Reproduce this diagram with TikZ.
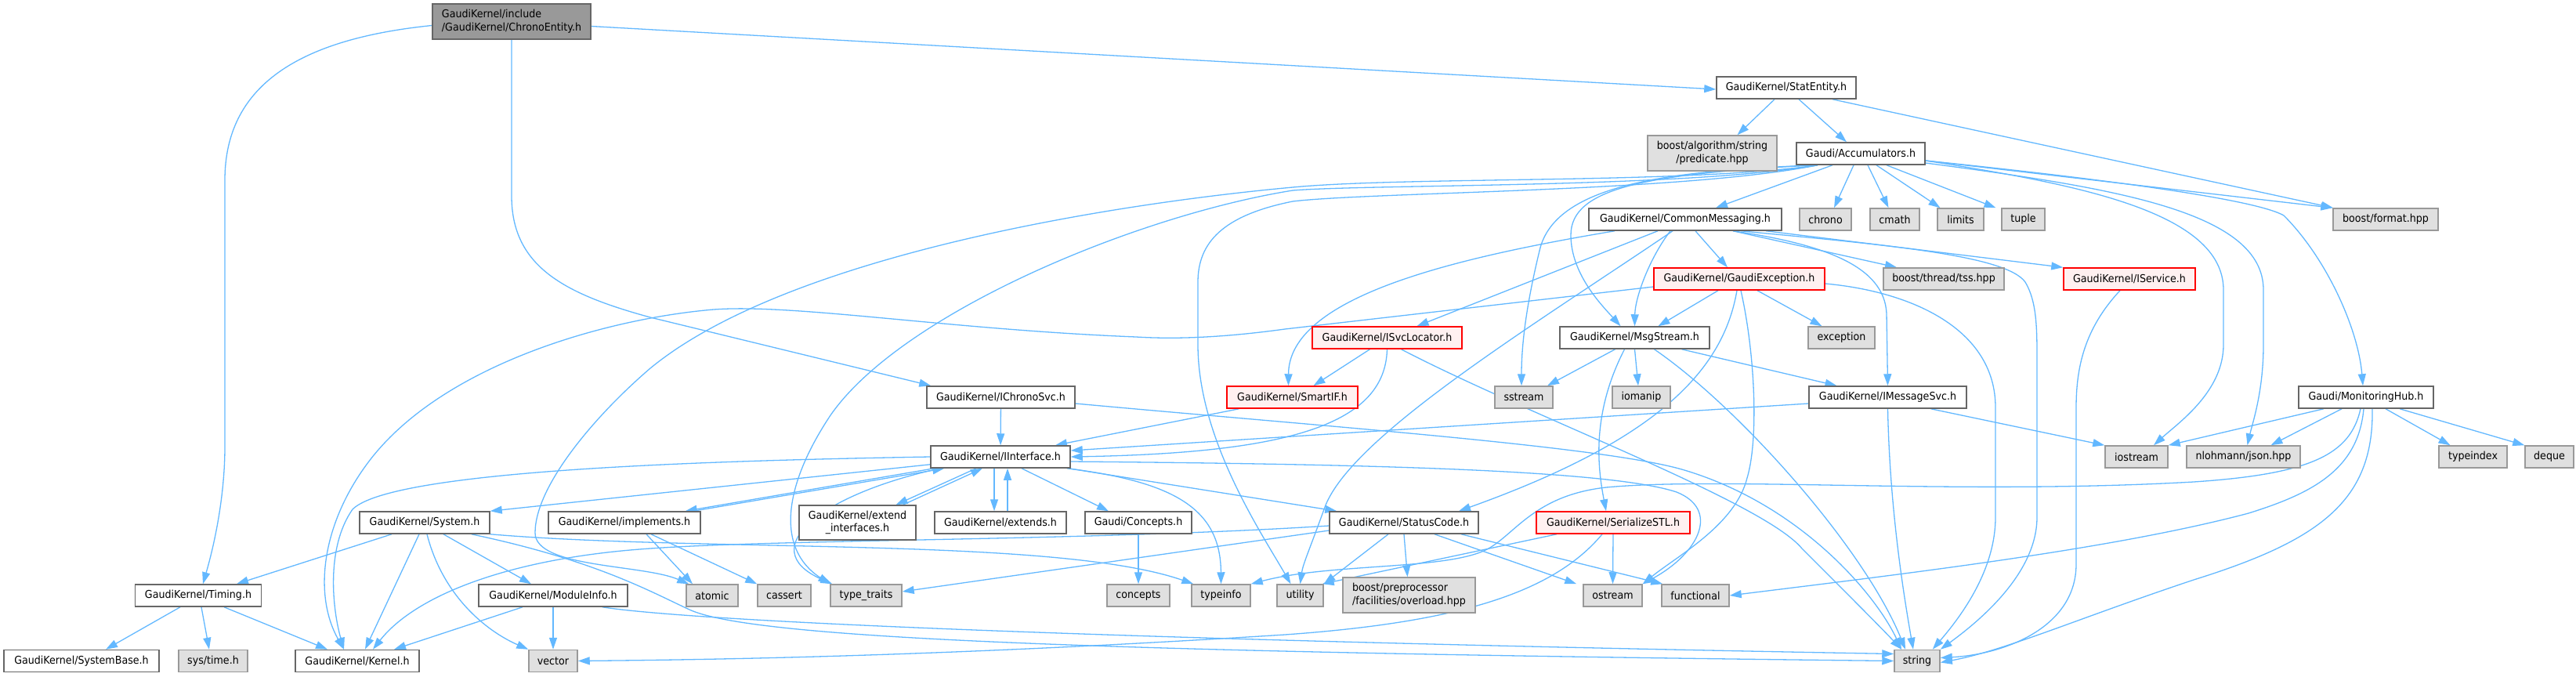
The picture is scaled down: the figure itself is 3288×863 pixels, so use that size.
\documentclass[tikz,border=0pt]{standalone}
\usepackage{fontspec}
\setmainfont{DejaVu Sans}[FakeStretch=0.925]
\usetikzlibrary{arrows.meta,calc}
\pgfdeclarelayer{bg}
\pgfsetlayers{bg,main}
\definecolor{edgeblue}{HTML}{63B8FF}
\definecolor{ndborder}{HTML}{666666}
\definecolor{extfill}{HTML}{E0E0E0}
\definecolor{extborder}{HTML}{999999}
\definecolor{redfill}{HTML}{FFF0F0}
\definecolor{redborder}{HTML}{FF0000}
\definecolor{rootfill}{HTML}{999999}
\newcommand\ndfont{\fontsize{13.7pt}{16.7pt}\selectfont}
\tikzset{
  nd/.style={draw=ndborder, fill=white, line width=1.5pt, inner sep=0pt, minimum height=28pt, font=\ndfont, text=black},
  sysnd/.style={nd, draw=extborder, fill=extfill},
  rednd/.style={nd, draw=redborder, fill=redfill},
  rootnd/.style={nd, draw=ndborder, fill=rootfill},
  dep/.style={draw=edgeblue, line width=1.3pt, -{Triangle[length=15pt,width=10pt]}}
}
\begin{document}
\begin{tikzpicture}[x=1pt,y=-1pt]
\useasboundingbox (0,0) rectangle (3288,863);
% nodes
\node[rootnd, minimum width=202pt, minimum height=45pt, align=left] (ce) at (653,27.5) {GaudiKernel/include\\/GaudiKernel/ChronoEntity.h};
\node[nd, minimum width=178pt] (se) at (2280,112) {GaudiKernel/StatEntity.h};
\node[sysnd, minimum width=165pt, minimum height=45pt, align=center] (pred) at (2185.5,195.5) {boost/algorithm/string\\/predicate.hpp};
\node[nd, minimum width=164pt] (acc) at (2375,196) {Gaudi/Accumulators.h};
\node[nd, minimum width=246pt] (cm) at (2151,280) {GaudiKernel/CommonMessaging.h};
\node[sysnd, minimum width=66pt] (chrono) at (2330,280) {chrono};
\node[sysnd, minimum width=63pt] (cmath) at (2418.5,280) {cmath};
\node[sysnd, minimum width=59pt] (limits) at (2502.5,280) {limits};
\node[sysnd, minimum width=55pt] (tuple) at (2582.5,280) {tuple};
\node[sysnd, minimum width=134pt] (bfmt) at (3045,280) {boost/format.hpp};
\node[rednd, minimum width=218pt] (ge) at (2220,356) {GaudiKernel/GaudiException.h};
\node[sysnd, minimum width=154pt] (tss) at (2481,356) {boost/thread/tss.hpp};
\node[rednd, minimum width=168pt] (isvc) at (2718,356) {GaudiKernel/IService.h};
\node[rednd, minimum width=191pt] (isl) at (1770.5,431) {GaudiKernel/ISvcLocator.h};
\node[nd, minimum width=191pt] (ms) at (2086.5,431) {GaudiKernel/MsgStream.h};
\node[sysnd, minimum width=85pt] (exc) at (2350.5,431) {exception};
\node[rednd, minimum width=167pt] (sif) at (1649.5,507) {GaudiKernel/SmartIF.h};
\node[sysnd, minimum width=74pt] (sstream) at (1945,507) {sstream};
\node[sysnd, minimum width=74pt] (iomanip) at (2095,507) {iomanip};
\node[nd, minimum width=201pt] (ims) at (2409.5,507) {GaudiKernel/IMessageSvc.h};
\node[nd, minimum width=172pt] (mh) at (3020,507) {Gaudi/MonitoringHub.h};
\node[nd, minimum width=189pt] (ics) at (1277.5,507) {GaudiKernel/IChronoSvc.h};
\node[nd, minimum width=178pt] (iif) at (1277,583) {GaudiKernel/IInterface.h};
\node[sysnd, minimum width=80pt] (iostream) at (2727,583) {iostream};
\node[sysnd, minimum width=145pt] (json) at (2863.5,583) {nlohmann/json.hpp};
\node[sysnd, minimum width=87pt] (typeindex) at (3156.5,583) {typeindex};
\node[sysnd, minimum width=62pt] (deque) at (3254,583) {deque};
\node[nd, minimum width=166pt] (sys) at (542,667) {GaudiKernel/System.h};
\node[nd, minimum width=194pt] (impl) at (797,667) {GaudiKernel/implements.h};
\node[nd, minimum width=149pt, minimum height=44pt, align=center] (extif) at (1094.5,667) {GaudiKernel/extend\\\_interfaces.h};
\node[nd, minimum width=168pt] (exts) at (1277,667) {GaudiKernel/extends.h};
\node[nd, minimum width=136pt] (conc) at (1453,667) {Gaudi/Concepts.h};
\node[nd, minimum width=190pt] (sc) at (1792,667) {GaudiKernel/StatusCode.h};
\node[rednd, minimum width=196pt] (sstl) at (2059,667) {GaudiKernel/SerializeSTL.h};
\node[nd, minimum width=161pt] (tim) at (253,760) {GaudiKernel/Timing.h};
\node[nd, minimum width=190pt] (mi) at (706,760) {GaudiKernel/ModuleInfo.h};
\node[sysnd, minimum width=66pt] (atomic) at (909,760) {atomic};
\node[sysnd, minimum width=68pt] (cassert) at (1001,760) {cassert};
\node[sysnd, minimum width=91pt] (tt) at (1105.5,760) {type\_traits};
\node[sysnd, minimum width=80pt] (concepts) at (1453,760) {concepts};
\node[sysnd, minimum width=75pt] (typeinfo) at (1558.5,760) {typeinfo};
\node[sysnd, minimum width=59pt] (utility) at (1659.5,760) {utility};
\node[sysnd, minimum width=169pt, minimum height=45pt, align=left] (ovl) at (1798.5,759.5) {boost/preprocessor\\/facilities/overload.hpp};
\node[sysnd, minimum width=75pt] (ostream) at (2058.5,760) {ostream};
\node[sysnd, minimum width=86pt] (functional) at (2164,760) {functional};
\node[nd, minimum width=198pt] (sb) at (104,843.5) {GaudiKernel/SystemBase.h};
\node[sysnd, minimum width=88pt] (systime) at (272,843.5) {sys/time.h};
\node[nd, minimum width=158pt] (kern) at (456,843.5) {GaudiKernel/Kernel.h};
\node[sysnd, minimum width=62pt] (vector) at (706,843.5) {vector};
\node[sysnd, minimum width=58pt] (string) at (2447,843.5) {string};

\begin{pgfonlayer}{bg}
% ChronoEntity
\draw[dep] ([yshift=-6]ce.east) -- ([yshift=-2]se.west);
\draw[dep] (ce.south) -- (653,250) .. controls (653,340) and (720,375) .. (830,405) -- ([xshift=6]ics.north west);
\draw[dep] ([yshift=-5]ce.west) .. controls (380,50) and (287,110) .. (287,230) -- (287,570) .. controls (287,630) and (275,690) .. ([xshift=6]tim.north);
% StatEntity
\draw[dep] ([xshift=-15]se.south) -- ([xshift=32]pred.north);
\draw[dep] ([xshift=16]se.south) -- ([xshift=-18]acc.north);
\draw[dep] ([xshift=59]se.south) -- ([xshift=-67]bfmt.north);
% Accumulators
\draw[dep] ([xshift=-36]acc.south) -- ([xshift=39]cm.north);
\draw[dep] ([xshift=-9]acc.south) -- ([xshift=11]chrono.north);
\draw[dep] ([xshift=9]acc.south) -- ([xshift=-8]cmath.north);
\draw[dep] ([xshift=20]acc.south) -- ([xshift=-26]limits.north);
\draw[dep] ([xshift=33]acc.south) -- ([xshift=-35]tuple.north);
\draw[dep] ([yshift=-9]acc.east) -- (bfmt.north west);
\draw[dep] ([yshift=-9]acc.east) .. controls (2700,230) and (2880,255) .. (2915,275) .. controls (2970,330) and (3010,420) .. ([xshift=-4]mh.north);
\draw[dep] ([yshift=-9]acc.east) .. controls (2650,235) and (2838,270) .. (2838,370) -- (2838,440) .. controls (2838,500) and (2780,540) .. ([xshift=22]iostream.north);
\draw[dep] ([yshift=-12]acc.east) .. controls (2700,240) and (2889,270) .. (2889,370) -- (2889,440) .. controls (2889,500) and (2875,540) .. ([xshift=5]json.north);
\draw[dep] ([xshift=-55]acc.south) .. controls (2150,235) and (1800,225) .. (1650,239) .. controls (1400,262) and (1000,330) .. (830,470) .. controls (760,530) and (683,620) .. (683,680) .. controls (683,725) and (820,720) .. ([xshift=4]atomic.north west);
\draw[dep] ([xshift=-55]acc.south) .. controls (2150,240) and (1750,235) .. (1650,243) .. controls (1450,275) and (1150,400) .. (1060,530) .. controls (1000,620) and (990,700) .. (tt.north west);
\draw[dep] ([xshift=-55]acc.south) .. controls (2150,245) and (1750,245) .. (1650,257) .. controls (1560,275) and (1529,310) .. (1529,360) -- (1529,440) .. controls (1529,560) and (1610,680) .. ([xshift=-12]utility.north);
\draw[dep] ([xshift=-60]acc.south) .. controls (2150,218) and (1985,230) .. (1965,320) .. controls (1948,390) and (1942,440) .. ([xshift=-3]sstream.north);
\draw[dep] ([xshift=-58]acc.south) .. controls (2100,222) and (2005,240) .. (2005,300) .. controls (2005,350) and (2045,390) .. ([xshift=-18]ms.north);
% CommonMessaging
\draw[dep] ([xshift=13]cm.south) -- ([xshift=-15]ge.north);
\draw[dep] ([xshift=61]cm.south) -- ([xshift=-60]tss.north);
\draw[dep] ([xshift=103]cm.south) -- (isvc.north west);
\draw[dep] ([xshift=71]cm.south) .. controls (2400,312) and (2560,325) .. (2585,360) .. controls (2600,385) and (2600,420) .. (2600,460) -- (2600,660) .. controls (2600,730) and (2530,790) .. (string.north east);
\draw[dep] ([xshift=61]cm.south) .. controls (2330,312) and (2405,340) .. (2408,400) -- (ims.north);
\draw[dep] ([xshift=-90]cm.south) .. controls (1850,330) and (1645,380) .. ([xshift=-5]sif.north);
\draw[dep] ([xshift=-35]cm.south) -- ([xshift=38]isl.north);
\draw[dep] ([xshift=-19]cm.south) .. controls (2105,330) and (2087,380) .. (ms.north);
\draw[dep] ([xshift=-16]cm.south) .. controls (1950,420) and (1720,560) .. (1690,650) .. controls (1672,700) and (1663,720) .. (utility.north);
% GaudiException
\draw[dep] ([xshift=-27]ge.south) -- ([xshift=30]ms.north);
\draw[dep] ([xshift=23]ge.south) -- ([xshift=-25]exc.north);
\draw[dep] ([yshift=-10]ge.west) -- (1640,420) .. controls (1560,431) and (1500,433) .. (1450,430) .. controls (1200,420) and (1000,385) .. (900,396) .. controls (760,410) and (560,470) .. (470,590) .. controls (410,670) and (400,760) .. ([xshift=-17]kern.north);
\draw[dep] ([xshift=-3]ge.south) .. controls (2200,470) and (2120,560) .. ([xshift=70]sc.north);
\draw[dep] ([xshift=2]ge.south) .. controls (2240,450) and (2245,560) .. (2230,610) .. controls (2215,670) and (2140,710) .. (ostream.north east);
\draw[dep] ([yshift=-6]ge.east) .. controls (2440,372) and (2547,420) .. (2547,520) -- (2547,660) .. controls (2547,730) and (2500,790) .. ([xshift=-10]string.north east);
% MsgStream
\draw[dep] ([xshift=-25]ms.south) -- ([xshift=30]sstream.north);
\draw[dep] (ms.south) -- ([xshift=-4]iomanip.north);
\draw[dep] ([xshift=60]ms.south) -- ([xshift=-65]ims.north);
\draw[dep] ([xshift=-13]ms.south) .. controls (2030,530) and (2040,600) .. ([xshift=-9]sstl.north);
\draw[dep] ([xshift=25]ms.south) .. controls (2220,520) and (2380,700) .. ([xshift=-15]string.north);
% ISvcLocator
\draw[dep] ([xshift=-22]isl.south) -- ([xshift=27]sif.north);
\draw[dep] (isl.south) .. controls (1768,540) and (1650,578) .. (iif.east);
\draw[dep] ([xshift=18]isl.south) .. controls (1950,530) and (2250,640) .. (2300,700) .. controls (2360,760) and (2400,800) .. ([xshift=-20]string.north);
% SmartIF
\draw[dep] ([xshift=-68]sif.south) -- ([xshift=70]iif.north);
% IMessageSvc
\draw[dep] ([yshift=-8]ims.west) -- ([yshift=8]iif.east);
\draw[dep] ([xshift=55]ims.south) -- (iostream.north west);
\draw[dep] (ims.south) .. controls (2412,650) and (2430,760) .. ([xshift=-5]string.north);
% IService
\draw[dep] ([xshift=-12]isvc.south) .. controls (2660,420) and (2650,470) .. (2650,520) -- (2650,720) .. controls (2650,800) and (2560,835) .. ([yshift=4]string.east);
% MonitoringHub
\draw[dep] ([xshift=-54]mh.south) -- (iostream.north east);
\draw[dep] ([xshift=-31]mh.south) -- ([xshift=35]json.north);
\draw[dep] ([xshift=25]mh.south) -- ([xshift=-29]typeindex.north);
\draw[dep] ([xshift=43]mh.south) -- (deque.north west);
\draw[dep] ([xshift=-7]mh.south) .. controls (3000,580) and (2950,605) .. (2800,615) .. controls (2500,632) and (2200,608) .. (2050,622) .. controls (1960,632) and (1935,680) .. (1900,700) .. controls (1850,728) and (1700,718) .. (typeinfo.north east);
\draw[dep] ([xshift=-3]mh.south) .. controls (3010,600) and (2950,630) .. (2870,655) .. controls (2700,700) and (2450,730) .. (functional.east);
\draw[dep] ([xshift=8]mh.south) .. controls (3030,640) and (2960,690) .. (2800,740) .. controls (2650,790) and (2560,830) .. ([yshift=-2]string.east);
% IChronoSvc
\draw[dep] (ics) -- (iif);
\draw[dep] ([yshift=-8]ics.east) .. controls (1700,545) and (2050,570) .. (2150,600) .. controls (2300,645) and (2395,760) .. ([xshift=-20]string.north);
% IInterface
\draw[dep] (iif.west) .. controls (900,588) and (500,600) .. (450,650) .. controls (415,700) and (425,780) .. ([xshift=-17]kern.north);
\draw[dep] ([yshift=5]iif.south west) -- (sys.north east);
\draw[dep] ([xshift=5]iif.south west) -- ([xshift=-20]impl.north east);
\draw[dep] ([xshift=-10]impl.north east) -- ([xshift=18]iif.south west);
\draw[dep] ([xshift=-31]iif.south) -- ([xshift=49]extif.north);
\draw[dep] ([xshift=58]extif.north) -- ([xshift=-23]iif.south);
\draw[dep] ([xshift=-8]iif.south) -- ([xshift=-8]exts.north);
\draw[dep] ([xshift=9]exts.north) -- ([xshift=9]iif.south);
\draw[dep] ([xshift=27]iif.south) -- ([xshift=-38]conc.north);
\draw[dep] ([xshift=-5]iif.south east) .. controls (1500,615) and (1558,650) .. (typeinfo.north);
\draw[dep] ([xshift=-3]iif.south east) -- ([xshift=10]sc.north west);
\draw[dep] ([xshift=13]iif.south west) .. controls (1050,630) and (960,700) .. ([xshift=3]tt.north west);
\draw[dep] ([yshift=-6]iif.east) .. controls (1700,592) and (2050,598) .. (2140,628) .. controls (2195,650) and (2170,705) .. (ostream.north east);
% System
\draw[dep] ([xshift=-42]sys.south) -- ([xshift=49]tim.north);
\draw[dep] ([xshift=-7]sys.south) -- ([xshift=10]kern.north);
\draw[dep] ([xshift=3]sys.south) .. controls (565,760) and (620,805) .. (vector.north west);
\draw[dep] ([xshift=24]sys.south) -- ([xshift=-28]mi.north);
\draw[dep] (sys.south east) .. controls (900,705) and (1350,685) .. ([xshift=3]typeinfo.north west);
\draw[dep] ([xshift=-24]sys.south east) .. controls (760,715) and (830,755) .. (880,778) .. controls (960,815) and (1400,832) .. (string.west);
% ModuleInfo
\draw[dep] ([xshift=-39]mi.south) -- ([xshift=47]kern.north);
\draw[dep] (mi.south) -- (vector.north);
\draw[dep] ([xshift=-33]mi.south east) .. controls (900,795) and (1500,818) .. ([yshift=9]string.west);
% Timing
\draw[dep] ([xshift=-23]tim.south) -- ([xshift=31]sb.north);
\draw[dep] ([xshift=4]tim.south) -- ([xshift=-5]systime.north);
\draw[dep] ([xshift=33]tim.south) -- ([xshift=-38]kern.north);
% implements
\draw[dep] ([xshift=28]impl.south) -- ([xshift=-25]atomic.north);
\draw[dep] ([xshift=34]impl.south) -- (cassert.north west);
% Concepts
\draw[dep] (conc) -- (concepts);
% StatusCode
\draw[dep] ([yshift=-4]sc.west) .. controls (1400,690) and (1000,688) .. (830,700) .. controls (650,712) and (530,760) .. ([xshift=20]kern.north);
\draw[dep] ([yshift=-10]sc.west) -- ([yshift=5]tt.east);
\draw[dep] ([xshift=-20]sc.south) -- (utility.north east);
\draw[dep] (sc.south) -- ([xshift=-2]ovl.north);
\draw[dep] ([xshift=39]sc.south) -- ([xshift=-8]ostream.north west);
\draw[dep] ([xshift=73]sc.south) -- ([xshift=2]functional.north west);
% SerializeSTL
\draw[dep] (sstl.south) -- (ostream.north);
\draw[dep] ([xshift=-72]sstl.south) -- ([xshift=-2]utility.north east);
\draw[dep] ([xshift=-14]sstl.south) .. controls (1980,760) and (1850,795) .. (1640,810) .. controls (1200,838) and (900,842) .. (vector.east);
\end{pgfonlayer}
\end{tikzpicture}
\end{document}
